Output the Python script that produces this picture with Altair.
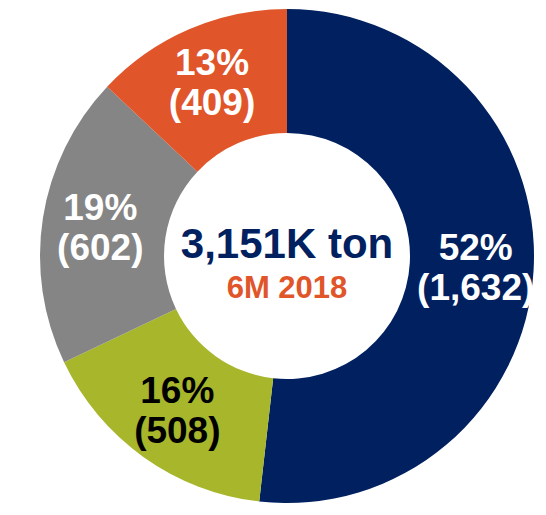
import altair as alt
import pandas as pd

# ---- data ----
categories = ["A", "B", "C", "D"]
values = [1632, 508, 602, 409]
pct_labels = ["52%", "16%", "19%", "13%"]
value_labels = ["(1,632)", "(508)", "(602)", "(409)"]
slice_colors = ["#002060", "#A7B62A", "#858585", "#E0552A"]
label_colors = ["#FFFFFF", "#000000", "#FFFFFF", "#FFFFFF"]
slice_order = [0, 1, 2, 3]
center_title = "3,151K ton"
center_subtitle = "6M 2018"

df = pd.DataFrame({
    "cat": categories,
    "value": values,
    "order": slice_order,
    "label": [p + "\n" + v for p, v in zip(pct_labels, value_labels)],
    "lcolor": label_colors,
})

CX, CY = 279, 248
FONT = "Liberation Sans"

base = alt.Chart(df).encode(
    theta=alt.Theta("value:Q", stack=True),
    order=alt.Order("order:Q"),
)

arcs = base.mark_arc(outerRadius=247, innerRadius=123, x=CX, y=CY).encode(
    color=alt.Color("cat:N", scale=alt.Scale(domain=categories, range=slice_colors), legend=None)
)

labels = base.mark_text(
    radius=189, x=CX, y=CY, dy=-18, font=FONT, fontSize=37, fontWeight="bold",
    lineBreak="\n", lineHeight=40, align="center", baseline="middle",
).encode(
    text="label:N",
    color=alt.Color("lcolor:N", scale=None),
)

center_df = pd.DataFrame({"t": [center_title], "s": [center_subtitle]})
title_txt = alt.Chart(center_df).mark_text(
    font=FONT, fontSize=42, fontWeight="bold", color="#002060",
    align="center", baseline="middle",
).encode(text="t:N", x=alt.value(CX), y=alt.value(CY - 11))
sub_txt = alt.Chart(center_df).mark_text(
    font=FONT, fontSize=31, fontWeight="bold", color="#E0552A",
    align="center", baseline="middle",
).encode(text="s:N", x=alt.value(CX), y=alt.value(CY + 33))

chart = alt.layer(arcs, labels, title_txt, sub_txt).properties(
    width=528, height=495, padding=0, autosize=alt.AutoSizeParams(type="none"),
    background="white",
).configure_view(stroke=None)

chart.save("out.html", embed_options={"renderer": "svg", "actions": False})
